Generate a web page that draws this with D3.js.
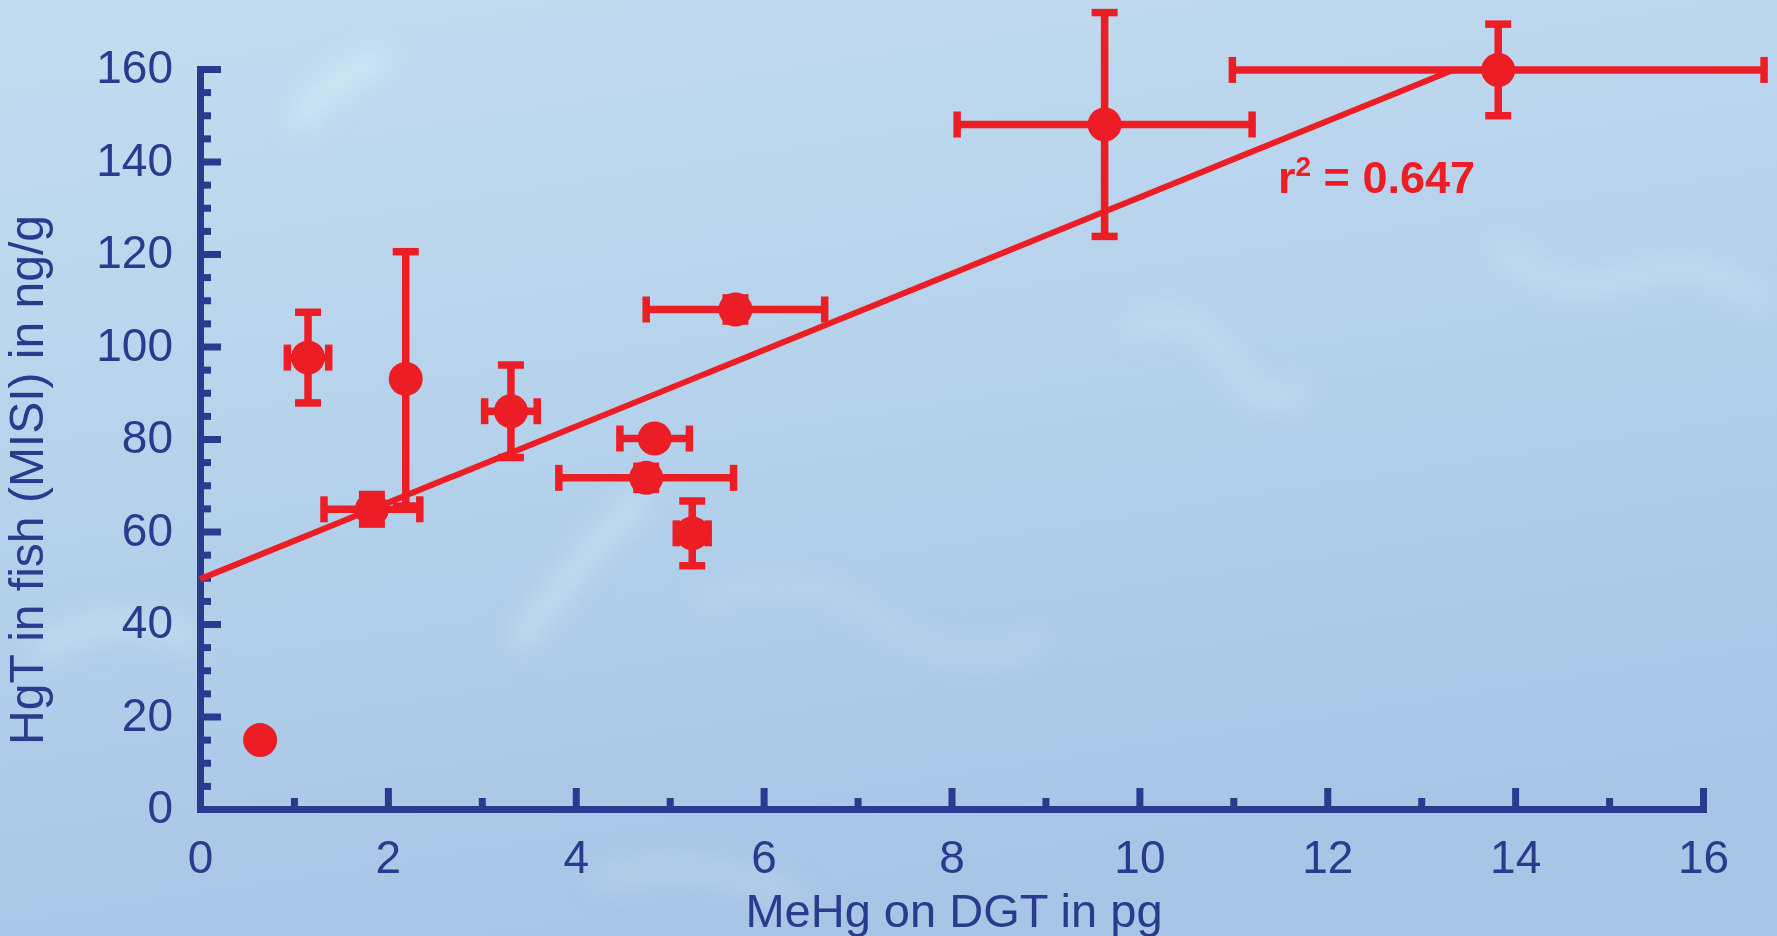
<!DOCTYPE html>
<html>
<head>
<meta charset="utf-8">
<script src="https://cdn.jsdelivr.net/npm/d3@7"></script>
<style>
  html, body { margin: 0; padding: 0; overflow: hidden; }
  body { width: 1777px; height: 936px; }
  text { font-family: "Liberation Sans", Arial, Helvetica, sans-serif; }
</style>
</head>
<body>
<script>
// point values (x = MeHg pg, y = HgT ng/g)
var xVals = [0.64, 1.15, 2.19, 1.83, 3.31, 5.70, 4.84, 4.75, 5.24, 9.63, 13.82];
var yVals = [14.9, 97.6, 93.0, 64.8, 86.0, 108.0, 80.1, 71.6, 59.6, 148.0, 159.8];
var xErr  = [0,    0.22, 0,    0.51, 0.28, 0.95, 0.37, 0.93, 0.17, 1.57, 2.83];
var yErr  = [0,    9.8,  27.5, 3.2,  10,   2.5,  0,    2.5,  7,    24.2, 9.9];

// fitted line end points
var fitX = [0, 13.34];
var fitY = [49.7, 159.8];
var r2 = "0.647";

var xTicks = [0, 2, 4, 6, 8, 10, 12, 14, 16];
var xMinor = [1, 3, 5, 7, 9, 11, 13, 15];
var yTicks = [0, 20, 40, 60, 80, 100, 120, 140, 160];
var yMinor = d3.range(0, 161, 5).filter(d => d % 20 != 0);

var width = 1777, height = 936;
var blue = "#2a3a8e", red = "#ec1d25";

var svg = d3.select("body").append("svg")
  .attr("width", width)
  .attr("height", height);

// watery background
var defs = svg.append("defs");
var bg = defs.append("linearGradient").attr("id", "bg")
  .attr("x1", 0).attr("y1", 0).attr("x2", 0.3).attr("y2", 1);
bg.append("stop").attr("offset", "0%").attr("stop-color", "#c4dcef");
bg.append("stop").attr("offset", "55%").attr("stop-color", "#b4d1eb");
bg.append("stop").attr("offset", "100%").attr("stop-color", "#a7c5e5");
defs.append("filter").attr("id", "blur")
  .append("feGaussianBlur").attr("stdDeviation", 14);

svg.append("rect").attr("width", width).attr("height", height).attr("fill", "url(#bg)");

var glow = svg.append("g").attr("filter", "url(#blur)").attr("fill", "none")
  .attr("stroke", "#d8eef8").attr("stroke-linecap", "round");
glow.append("path").attr("d", "M300,120 Q340,70 380,60").attr("stroke-width", 22).attr("opacity", 0.7);
glow.append("path").attr("d", "M520,640 Q580,560 640,500").attr("stroke-width", 18).attr("opacity", 0.6);
glow.append("path").attr("d", "M1130,330 Q1190,300 1230,360 Q1260,420 1300,390").attr("stroke-width", 16).attr("opacity", 0.5);
glow.append("path").attr("d", "M1500,250 Q1560,300 1620,280 Q1700,250 1760,300").attr("stroke-width", 18).attr("opacity", 0.45);
glow.append("path").attr("d", "M40,650 Q120,600 190,640").attr("stroke-width", 20).attr("opacity", 0.5);
glow.append("path").attr("d", "M700,600 Q800,560 880,620 Q960,680 1040,640").attr("stroke-width", 14).attr("opacity", 0.35);
glow.append("path").attr("d", "M600,880 Q700,850 800,900").attr("stroke-width", 16).attr("opacity", 0.4);

// scales
var x = d3.scaleLinear().domain([0, 16]).range([200, 1703]);
var y = d3.scaleLinear().domain([0, 160]).range([809, 69]);

// minor ticks
svg.append("g")
  .attr("transform", "translate(0,809)")
  .call(d3.axisBottom(x).tickValues(xMinor).tickSizeInner(-11).tickSizeOuter(0).tickFormat(""))
  .call(g => g.select(".domain").remove());
svg.append("g")
  .attr("transform", "translate(200,0)")
  .call(d3.axisLeft(y).tickValues(yMinor).tickSizeInner(-11).tickSizeOuter(0).tickFormat(""))
  .call(g => g.select(".domain").remove());

// main axes
var xAxis = svg.append("g")
  .attr("transform", "translate(0,809)")
  .call(d3.axisBottom(x).tickValues(xTicks).tickSizeInner(-21).tickSizeOuter(0).tickPadding(31));
var yAxis = svg.append("g")
  .attr("transform", "translate(200,0)")
  .call(d3.axisLeft(y).tickValues(yTicks).tickSizeInner(-21).tickSizeOuter(0).tickPadding(27));

svg.selectAll(".tick line").attr("stroke", blue).attr("stroke-width", 7);
svg.selectAll(".domain").attr("stroke", blue).attr("stroke-width", 7).attr("stroke-linecap", "square");
xAxis.selectAll("text").attr("fill", blue).style("font-size", "46px");
yAxis.selectAll("text").attr("fill", blue).style("font-size", "46px").attr("dy", "0.3em");

// axis titles
svg.append("text")
  .attr("x", 954).attr("y", 927)
  .attr("text-anchor", "middle")
  .attr("fill", blue)
  .style("font-size", "47px")
  .text("MeHg on DGT in pg");

svg.append("text")
  .attr("transform", "translate(43,480) rotate(-90)")
  .attr("text-anchor", "middle")
  .attr("fill", blue)
  .style("font-size", "48px")
  .text("HgT in fish (MISI) in ng/g");

// regression line
svg.append("line")
  .attr("x1", x(fitX[0])).attr("y1", y(fitY[0]))
  .attr("x2", x(fitX[1])).attr("y2", y(fitY[1]))
  .attr("stroke", red).attr("stroke-width", 6);

// error bars
var capLen = 13;
var pts = xVals.map((d, i) => ({x: d, y: yVals[i], xe: xErr[i], ye: yErr[i]}));
var eb = svg.append("g").attr("stroke", red).attr("stroke-width", 7.5);

pts.filter(d => d.xe > 0).forEach(function(d) {
  eb.append("line").attr("x1", x(d.x - d.xe)).attr("x2", x(d.x + d.xe))
    .attr("y1", y(d.y)).attr("y2", y(d.y));
  [d.x - d.xe, d.x + d.xe].forEach(function(v) {
    eb.append("line").attr("x1", x(v)).attr("x2", x(v))
      .attr("y1", y(d.y) - capLen).attr("y2", y(d.y) + capLen);
  });
});
pts.filter(d => d.ye > 0).forEach(function(d) {
  eb.append("line").attr("x1", x(d.x)).attr("x2", x(d.x))
    .attr("y1", y(d.y - d.ye)).attr("y2", y(d.y + d.ye));
  [d.y - d.ye, d.y + d.ye].forEach(function(v) {
    eb.append("line").attr("y1", y(v)).attr("y2", y(v))
      .attr("x1", x(d.x) - capLen).attr("x2", x(d.x) + capLen);
  });
});

// markers
svg.selectAll("circle.pt")
  .data(pts)
  .enter()
  .append("circle")
  .attr("class", "pt")
  .attr("cx", d => x(d.x))
  .attr("cy", d => y(d.y))
  .attr("r", 17)
  .attr("fill", red);

// r squared label
var lab = svg.append("text")
  .attr("x", 1278).attr("y", 193)
  .attr("fill", red)
  .style("font-size", "45px")
  .style("font-weight", "bold");
lab.append("tspan").text("r");
lab.append("tspan").attr("dy", -17).style("font-size", "28px").text("2");
lab.append("tspan").attr("dy", 17).text(" = " + r2);
</script>
</body>
</html>
